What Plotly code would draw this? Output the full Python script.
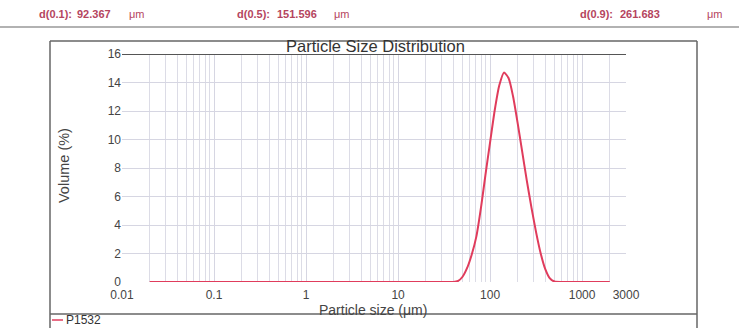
import plotly.graph_objects as go
import math

# ---- data ----
sizes_um = [0.02, 0.1, 1, 10, 30, 40, 45, 50, 56, 63, 71, 80, 89, 100, 112, 126, 142,
            159, 178, 200, 224, 251, 282, 316, 355, 398, 447, 502, 600, 1000, 2000]
volume_pct = [0, 0, 0, 0, 0, 0.0, 0.08, 0.35, 0.95, 1.9, 3.2, 5.3, 7.5, 9.8, 12.0, 13.8, 14.7,
              14.3, 13.0, 11.1, 9.1, 7.1, 5.2, 3.5, 2.0, 0.9, 0.25, 0.03, 0, 0, 0]
x_tick_vals = [0.01, 0.1, 1, 10, 100, 1000, 3000]
x_tick_text = ["0.01", "0.1", "1", "10", "100", "1000", "3000"]
y_tick_vals = [0, 2, 4, 6, 8, 10, 12, 14, 16]
header_labels = ["d(0.1):", "d(0.5):", "d(0.9):"]
header_values = ["92.367", "151.596", "261.683"]
series_name = "P1532"

W, H = 739, 328
def px(xp):
    return xp / W
def py(yp):
    return 1 - yp / H

minor_vals = []
for d in range(-2, 4):
    for m in range(2, 10):
        v = m * 10 ** d
        if v < 3000:
            minor_vals.append(v)

RED = "#e03c5c"
HDR = "#b5455e"
FONT = "Liberation Sans, Arial, sans-serif"

fig = go.Figure()
fig.add_trace(go.Scatter(x=sizes_um, y=volume_pct, mode="lines",
                         line=dict(color=RED, width=2, shape="spline", smoothing=0.6),
                         name=series_name, showlegend=False))

fig.update_layout(
    width=W, height=H, margin=dict(l=0, r=0, t=0, b=0), autosize=False,
    paper_bgcolor="white", plot_bgcolor="white",
    font=dict(family=FONT, color="#444", size=12),
    xaxis=dict(type="log", range=[-2, math.log10(3000)],
               domain=[px(122), px(626)], automargin=False,
               tickmode="array", tickvals=x_tick_vals, ticktext=x_tick_text,
               showgrid=True, gridcolor="#d6d6e2", gridwidth=1,
               minor=dict(tickmode="array", tickvals=minor_vals, showgrid=True,
                          gridcolor="#dcdce6", gridwidth=1, ticks=""),
               ticks="", showline=False, zeroline=False, ticklabelstandoff=4,
               tickfont=dict(size=12, color="#444")),
    yaxis=dict(range=[0, 16], domain=[py(282), py(54)], automargin=False,
               tickmode="array", tickvals=y_tick_vals,
               showgrid=True, gridcolor="#d6d6e2", gridwidth=1,
               ticks="", showline=False, zeroline=False,
               tickfont=dict(size=12, color="#444")),
)

shapes = []
shapes.append(dict(type="line", xref="x domain", yref="y", x0=0, x1=1, y0=16, y1=16,
                   line=dict(color="#555", width=2)))
shapes.append(dict(type="line", xref="paper", yref="paper", x0=0, x1=1, y0=py(27), y1=py(27),
                   line=dict(color="#999", width=1.5)))
shapes.append(dict(type="line", xref="paper", yref="paper", x0=px(50), x1=px(697), y0=py(41), y1=py(41),
                   line=dict(color="#666", width=1.5)))
shapes.append(dict(type="line", xref="paper", yref="paper", x0=px(50), x1=px(50), y0=py(41), y1=0,
                   line=dict(color="#666", width=1.5)))
shapes.append(dict(type="line", xref="paper", yref="paper", x0=px(697), x1=px(697), y0=py(41), y1=0,
                   line=dict(color="#666", width=1.5)))
shapes.append(dict(type="line", xref="paper", yref="paper", x0=px(50), x1=px(697), y0=py(314), y1=py(314),
                   line=dict(color="#666", width=1.5)))
shapes.append(dict(type="line", xref="paper", yref="paper", x0=px(52), x1=px(63), y0=py(320), y1=py(320),
                   line=dict(color=RED, width=1.5)))
fig.update_layout(shapes=shapes)

ann = []
hdr_pos = [(37, 75, 127), (235, 275, 332), (578, 618, 705)]
for (xl, xv, xu), lab, val in zip(hdr_pos, header_labels, header_values):
    for xx, tt in ((xl, "<b>" + lab + "</b>"), (xv, "<b>" + val + "</b>"), (xu, "μm")):
        ann.append(dict(x=px(xx), y=py(14), xref="paper", yref="paper", text=tt,
                        showarrow=False, xanchor="left", yanchor="middle",
                        font=dict(family=FONT, size=11, color=HDR)))
ann.append(dict(x=px(375), y=py(46), xref="paper", yref="paper", text="Particle Size Distribution",
                showarrow=False, xanchor="center", yanchor="middle",
                font=dict(family=FONT, size=16.5, color="#333")))
ann.append(dict(x=px(373), y=py(310), xref="paper", yref="paper", text="Particle size (μm)",
                showarrow=False, xanchor="center", yanchor="middle",
                font=dict(family=FONT, size=14, color="#444")))
ann.append(dict(x=px(64), y=py(166), xref="paper", yref="paper", text="Volume (%)",
                showarrow=False, xanchor="center", yanchor="middle", textangle=-90,
                font=dict(family=FONT, size=14.5, color="#444")))
ann.append(dict(x=px(64), y=py(320), xref="paper", yref="paper", text=series_name,
                showarrow=False, xanchor="left", yanchor="middle",
                font=dict(family=FONT, size=12, color="#333")))
fig.update_layout(annotations=ann)

fig.write_html("out.html", config={"responsive": False},
               post_script="document.body.style.margin='0';document.body.style.overflow='hidden';")
